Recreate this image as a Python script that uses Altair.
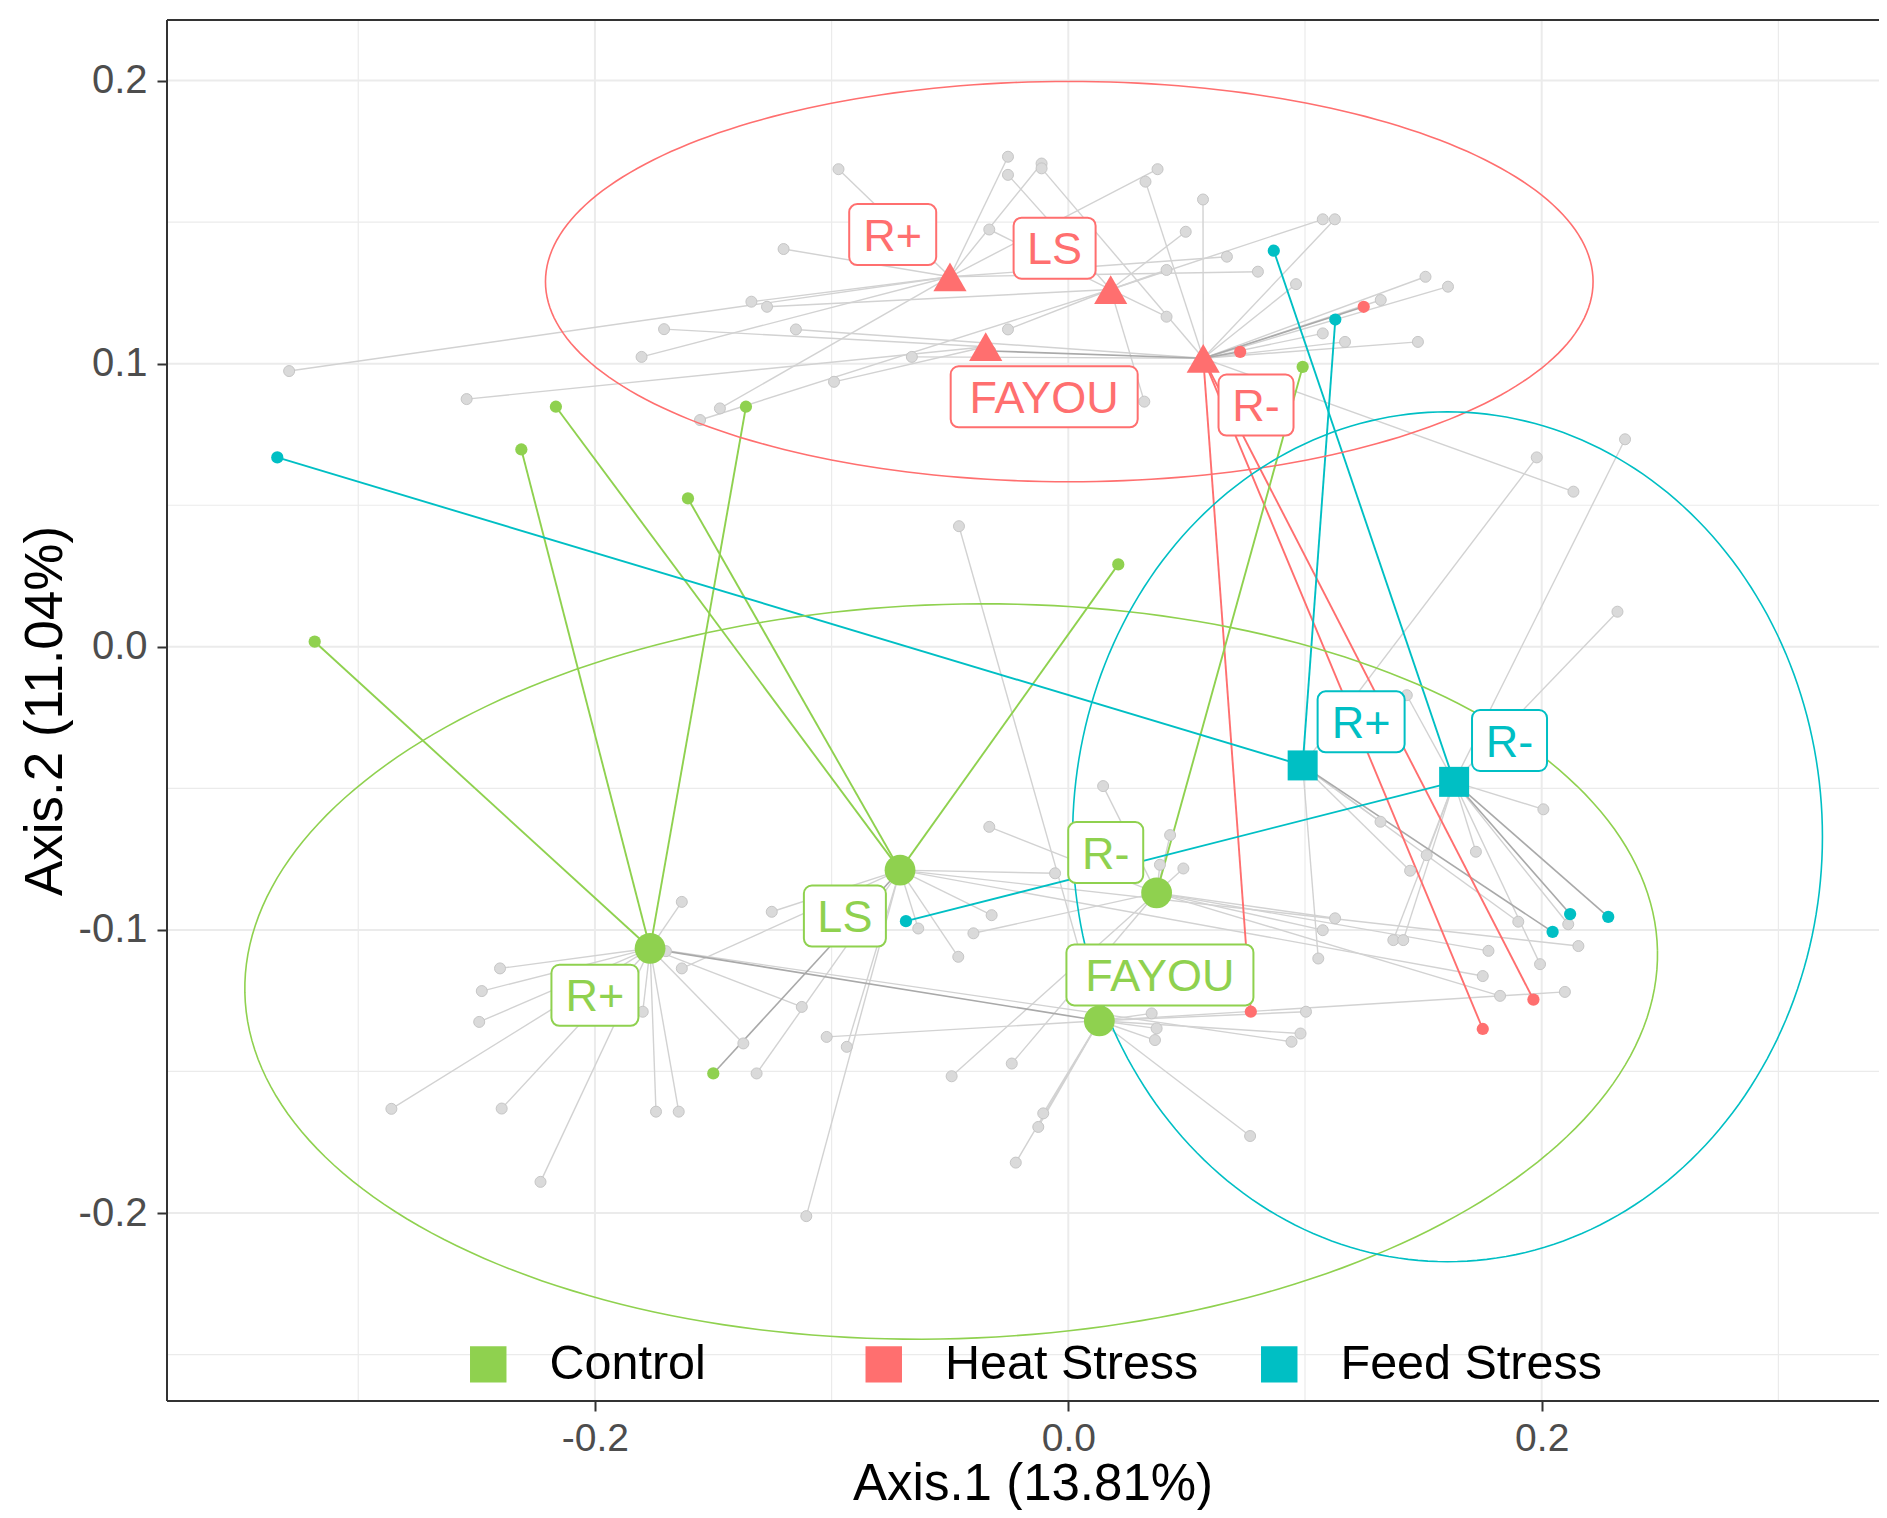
import altair as alt
import numpy as np
import pandas as pd

FONT = "Liberation Sans"
GROUPS = ["Control", "Heat Stress", "Feed Stress"]
GROUP_COLORS = ["#8FD14F", "#FF6F6F", "#00BFC4"]

# ---- centroids (group x sub-group) ----
cent_key = ["C R+", "C LS", "C R-", "C FAYOU", "H R+", "H LS", "H FAYOU", "H R-", "F R+", "F R-"]
cent_group = ["Control"] * 4 + ["Heat Stress"] * 4 + ["Feed Stress"] * 2
cent_label = ["R+", "LS", "R-", "FAYOU", "R+", "LS", "FAYOU", "R-", "R+", "R-"]
cent_x = [-0.1767, -0.0711, 0.0373, 0.0131, -0.0500, 0.0179, -0.0349, 0.0570, 0.0990, 0.1630]
cent_y = [-0.1065, -0.0789, -0.0869, -0.1321, 0.1307, 0.1262, 0.1060, 0.1019, -0.0419, -0.0477]
label_x = [-0.2000, -0.0944, 0.0158, 0.0387, -0.0742, -0.0058, -0.0102, 0.0793, 0.1237, 0.1864]
label_y = [-0.1231, -0.0951, -0.0727, -0.1159, 0.1456, 0.1408, 0.0883, 0.0854, -0.0265, -0.0331]

# ---- samples: centroid they link to, position, kind ----
# kind: g = grey point/grey line, gd = grey point/dark line,
#       c = coloured point/coloured line, cd = coloured point/dark line
samp_cent = (["H R+"] * 11 + ["H LS"] * 10 + ["H FAYOU"] * 3 + ["H R-"] * 20
             + ["C R+"] * 16 + ["C LS"] * 15 + ["C R-"] * 13 + ["C FAYOU"] * 13
             + ["F R+"] * 8 + ["F R-"] * 14)
samp_x = [
    -0.0971, -0.0255, -0.0113, 0.0377, -0.1203, 0.0670, 0.0801, -0.1339, -0.1472, -0.3292, -0.1803,
    -0.0255, 0.0496, 0.1075, 0.0415, -0.1273, -0.0255, -0.1556, 0.0321, 0.0415, -0.0334,
    -0.2542, -0.1708, -0.0990,
    -0.0113, 0.0326, 0.0569, 0.1126, 0.0962, -0.1151, -0.0661, 0.1075, 0.1169, 0.1320, 0.1509, 0.1604,
    0.1477, 0.2134, -0.0330, 0.0726, 0.1248, 0.0771, 0.1751, 0.1965,
    -0.1633, -0.2401, -0.2478, -0.2489, -0.2860, -0.2394, -0.2230, -0.1742, -0.1646, -0.1798, -0.1126,
    -0.1373, 0.0943, -0.3184, -0.2311, -0.1362,
    -0.1253, -0.1633, -0.1317, -0.0936, -0.0056, -0.0324, -0.0634, -0.0465, -0.1107, 0.2155, 0.1751,
    -0.2165, -0.1607, 0.0211, -0.1500,
    0.0486, 0.0387, -0.0401, -0.0239, -0.0493, -0.0334, 0.0147, 0.0430, 0.1775, 0.1824, 0.1075, 0.1127,
    0.0990,
    -0.1021, -0.0106, -0.0127, -0.0222, 0.0768, 0.0352, 0.0373, 0.0366, 0.0981, 0.1004, 0.2098, -0.0462,
    -0.1700,
    0.1444, 0.1319, 0.1901, 0.1056, 0.1979, -0.3342, 0.1128, 0.2046,
    0.1722, 0.1514, 0.1373, 0.1415, 0.2112, 0.1993, 0.2320, 0.2007, 0.1430, 0.2352, -0.0686, 0.0868,
    0.2120, 0.2281,
]
samp_y = [
    0.1687, 0.1731, 0.1707, 0.1687, 0.1405, 0.1378, 0.1325, 0.1219, 0.0842, 0.0974, 0.1024,
    0.1667, 0.1466, 0.1510, 0.1331, 0.1201, 0.1121, 0.0801, 0.0866, 0.1166, 0.1474,
    0.0875, 0.1122, 0.0936,
    0.1690, 0.1643, 0.1580, 0.1510, 0.1281, 0.1121, 0.1024, 0.1107, 0.1077, 0.1225, 0.1307, 0.1272,
    0.1077, 0.0548, 0.1045, 0.1042, 0.1201, -0.1289, -0.1350, -0.1246,
    -0.0901, -0.1136, -0.1216, -0.1325, -0.1632, -0.1631, -0.1890, -0.1642, -0.1642, -0.1289, -0.1272,
    -0.1401, -0.1395, 0.0018, 0.0697, 0.0848,
    -0.0936, -0.1136, -0.1507, -0.1413, -0.0800, -0.0948, -0.0995, -0.1095, -0.2011, -0.1057, -0.1163,
    0.0848, 0.0524, 0.0291, -0.1507,
    -0.0783, -0.0770, -0.1012, -0.1472, -0.1517, -0.0636, -0.0492, -0.0665, -0.1074, -0.1233, -0.1001,
    -0.0959, 0.0989,
    -0.1378, -0.1648, -0.1696, -0.1822, -0.1728, -0.1295, -0.1348, -0.1389, -0.1366, -0.1289, -0.1219,
    0.0426, -0.1075,
    -0.0791, -0.0618, -0.0971, -0.1101, 0.0669, 0.0669, 0.1156, -0.1007,
    -0.0724, -0.0736, -0.1036, -0.1036, -0.0980, -0.1121, 0.0124, -0.0574, -0.0171, 0.0733, -0.0969, 0.1399,
    -0.0944, -0.0954,
]
samp_kind = (["g"] * 11 + ["g"] * 10 + ["g"] * 3
             + ["g"] * 14 + ["gd"] + ["cd"] * 2 + ["c"] * 3
             + ["g"] * 13 + ["c"] * 3
             + ["g"] * 11 + ["c"] * 3 + ["cd"]
             + ["g"] * 12 + ["c"]
             + ["g"] * 12 + ["gd"]
             + ["g"] * 5 + ["c"] * 2 + ["cd"]
             + ["g"] * 10 + ["c"] * 2 + ["cd"] * 2)

# ---- ellipse parameters (centre, semi-axes, rotation in data space) ----
ell_group = ["Control", "Heat Stress", "Feed Stress"]
ell_cx = [-0.0495, 0.0004, 0.1602]
ell_cy = [-0.1147, 0.1290, -0.0671]
ell_a = [0.2985, 0.2213, 0.1584]
ell_b = [0.1297, 0.0707, 0.1501]
ell_rot = [0.025, 0.0, 0.0]

# ---- axes / grid ----
x_ticks = [-0.2, 0.0, 0.2]
y_ticks = [-0.2, -0.1, 0.0, 0.1, 0.2]
x_minor = [-0.3, -0.1, 0.1, 0.3]
y_minor = [-0.25, -0.15, -0.05, 0.05, 0.15]
X_DOMAIN = [-0.3808, 0.3425]
Y_DOMAIN = [-0.2664, 0.2214]
W, H = 1712, 1381

gcol = dict(zip(GROUPS, GROUP_COLORS))

# ---- build tables ----
cent = pd.DataFrame({"key": cent_key, "group": cent_group, "label": cent_label,
                     "cx": cent_x, "cy": cent_y, "lx": label_x, "ly": label_y})
cent["col"] = cent["group"].map(gcol)

samp = pd.DataFrame({"key": samp_cent, "sx": samp_x, "sy": samp_y, "kind": samp_kind})
samp = samp.merge(cent[["key", "group", "cx", "cy", "col"]], on="key", how="left")

ell_rows = []
t = np.linspace(0, 2 * np.pi, 241)
for g, cx, cy, a, b, r in zip(ell_group, ell_cx, ell_cy, ell_a, ell_b, ell_rot):
    xs = cx + a * np.cos(t) * np.cos(r) - b * np.sin(t) * np.sin(r)
    ys = cy + a * np.cos(t) * np.sin(r) + b * np.sin(t) * np.cos(r)
    for i, (xx, yy) in enumerate(zip(xs, ys)):
        ell_rows.append({"group": g, "i": i, "ex": xx, "ey": yy, "col": gcol[g]})
ell = pd.DataFrame(ell_rows)

xs_ = alt.Scale(domain=X_DOMAIN, nice=False, zero=False)
ys_ = alt.Scale(domain=Y_DOMAIN, nice=False, zero=False)

lab_expr = "datum.value < 0 ? '-' + format(abs(datum.value), '.1f') : format(datum.value, '.1f')"
x_axis = alt.Axis(values=x_ticks, title="Axis.1 (13.81%)", grid=False, domain=False,
                  tickSize=10, tickWidth=2, tickColor="#333333",
                  labelFontSize=39, labelFont=FONT, labelColor="#4D4D4D", labelPadding=8,
                  labelExpr=lab_expr, labelFlush=False,
                  titleFontSize=51, titleFont=FONT, titleFontWeight="normal", titleColor="black",
                  titleX=865.6, titleY=98, titleBaseline="alphabetic", titleAlign="center")
y_axis = alt.Axis(values=y_ticks, title="Axis.2 (11.04%)", grid=False, domain=False,
                  tickSize=10, tickWidth=2, tickColor="#333333",
                  labelFontSize=40, labelFont=FONT, labelColor="#4D4D4D", labelPadding=10,
                  labelExpr=lab_expr, labelFlush=False,
                  titleFontSize=53, titleFont=FONT, titleFontWeight="normal", titleColor="black",
                  titleAngle=270, titleX=-106, titleY=690.5, titleBaseline="alphabetic",
                  titleAlign="center")


def X(field):
    return alt.X(field, scale=xs_, axis=x_axis)


def Y(field):
    return alt.Y(field, scale=ys_, axis=y_axis)


grid_minor_x = alt.Chart(pd.DataFrame({"v": x_minor})).mark_rule(color="#EBEBEB", strokeWidth=1.2).encode(
    x=X("v:Q"))
grid_minor_y = alt.Chart(pd.DataFrame({"v": y_minor})).mark_rule(color="#EBEBEB", strokeWidth=1.2).encode(
    y=Y("v:Q"))
grid_major_x = alt.Chart(pd.DataFrame({"v": x_ticks})).mark_rule(color="#EBEBEB", strokeWidth=2).encode(
    x=X("v:Q"))
grid_major_y = alt.Chart(pd.DataFrame({"v": y_ticks})).mark_rule(color="#EBEBEB", strokeWidth=2).encode(
    y=Y("v:Q"))


def seg_layer(kinds, color=None, width=1.4):
    base = alt.Chart(samp).transform_filter(
        alt.FieldOneOfPredicate(field="kind", oneOf=kinds))
    enc = dict(x=X("sx:Q"), y=Y("sy:Q"), x2="cx:Q", y2="cy:Q")
    if color is None:
        return base.mark_rule(strokeWidth=width).encode(color=alt.Color("col:N", scale=None), **enc)
    return base.mark_rule(strokeWidth=width, color=color).encode(**enc)


seg_grey = seg_layer(["g"], "#D2D2D2", 1.4)
seg_dark = seg_layer(["gd", "cd"], "#A9A9A9", 1.6)
seg_col = seg_layer(["c"], None, 1.9)

pts_grey = alt.Chart(samp).transform_filter(
    alt.FieldOneOfPredicate(field="kind", oneOf=["g", "gd"])
).mark_circle(size=121, color="#DADADA", stroke="#C6C6C6", strokeWidth=1, opacity=1).encode(
    x=X("sx:Q"), y=Y("sy:Q"))
pts_col = alt.Chart(samp).transform_filter(
    alt.FieldOneOfPredicate(field="kind", oneOf=["c", "cd"])
).mark_circle(size=150, opacity=1).encode(
    x=X("sx:Q"), y=Y("sy:Q"), color=alt.Color("col:N", scale=None))

ellipses = alt.Chart(ell).mark_line(strokeWidth=1.6).encode(
    x=X("ex:Q"), y=Y("ey:Q"),
    order="i:Q", detail="group:N", color=alt.Color("col:N", scale=None))

legend = alt.Legend(title=None, orient="none", legendX=297, legendY=1320,
                    direction="horizontal", columns=3, gridAlign="all", columnPadding=48.5,
                    symbolType="square", symbolSize=1330, symbolStrokeWidth=0,
                    labelFontSize=48.5, labelFont=FONT, labelColor="black", labelOffset=37,
                    labelLimit=0, padding=0, symbolOpacity=1)
gscale = alt.Scale(domain=GROUPS, range=GROUP_COLORS)


def cent_layer(group, shape, size):
    return alt.Chart(cent).transform_filter(alt.datum.group == group).mark_point(
        shape=shape, filled=True, size=size, opacity=1).encode(
        x=X("cx:Q"), y=Y("cy:Q"),
        color=alt.Color("group:N", scale=gscale, legend=legend))


cent_c = cent_layer("Control", "circle", 950)
cent_h = cent_layer("Heat Stress", "triangle-up", 1100)
cent_f = cent_layer("Feed Stress", "square", 900)

box_w = {"R+": 87, "LS": 82, "R-": 75, "FAYOU": 187}
boxes = []
for lab, bw in box_w.items():
    boxes.append(alt.Chart(cent).transform_filter(alt.datum.label == lab).mark_rect(
        width=bw, height=61, cornerRadius=8, fill="white", strokeWidth=2).encode(
        x=X("lx:Q"), y=Y("ly:Q"),
        stroke=alt.Stroke("col:N", scale=None)))

texts = alt.Chart(cent).mark_text(fontSize=45, font=FONT, align="center", baseline="middle", dy=2).encode(
    x=X("lx:Q"), y=Y("ly:Q"),
    text="label:N", color=alt.Color("col:N", scale=None))

border_src = pd.DataFrame({"a": [0]})
b_left = alt.Chart(border_src).mark_rule(color="#333333", strokeWidth=2).encode(
    x=alt.value(0), y=alt.value(0), y2=alt.value(H))
b_top = alt.Chart(border_src).mark_rule(color="#333333", strokeWidth=2).encode(
    x=alt.value(0), x2=alt.value(W), y=alt.value(0))
b_bottom = alt.Chart(border_src).mark_rule(color="#333333", strokeWidth=2).encode(
    x=alt.value(0), x2=alt.value(W), y=alt.value(H))

chart = alt.layer(
    grid_minor_x, grid_minor_y, grid_major_x, grid_major_y,
    seg_grey, seg_dark, seg_col, pts_grey, pts_col, ellipses,
    cent_c, cent_h, cent_f, *boxes, texts,
    b_left, b_top, b_bottom,
).properties(
    width=W, height=H,
    padding={"left": 159, "top": 12, "right": 0, "bottom": 109},
    autosize=alt.AutoSizeParams(type="none"),
    background="white",
).configure_view(stroke=None)

chart.save("out.html", embed_options={"renderer": "svg", "actions": False})
